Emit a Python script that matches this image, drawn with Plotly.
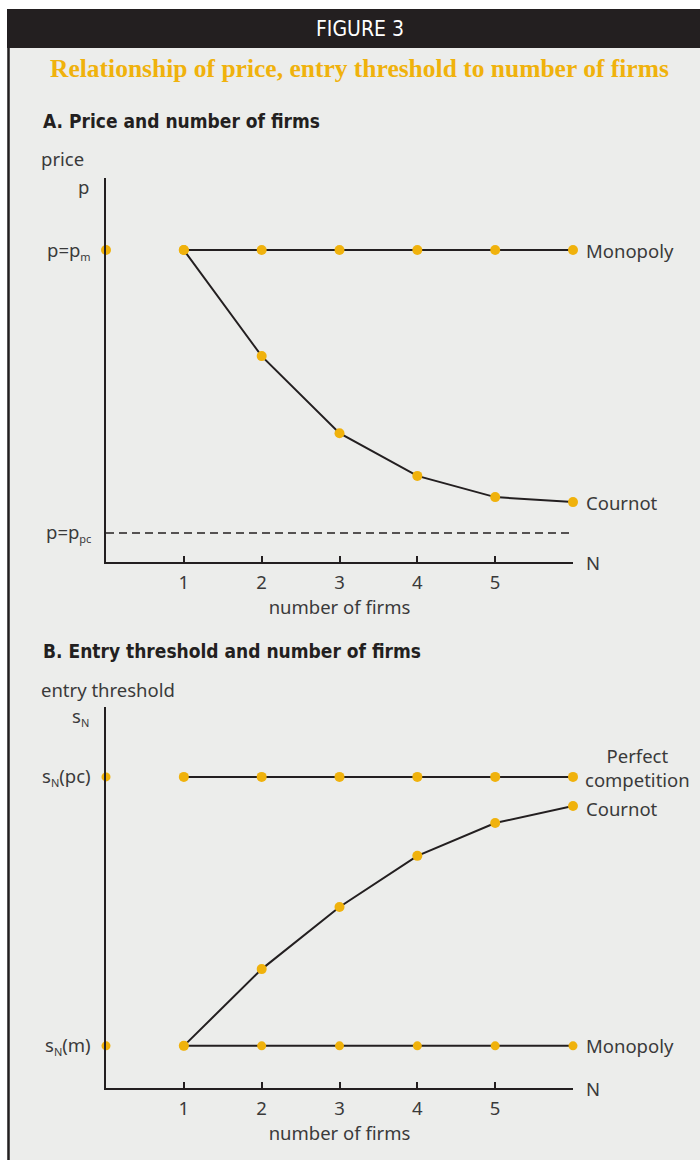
import plotly.graph_objects as go

# ---------------- data ----------------
firms = [1, 2, 3, 4, 5, 6]
tick_vals = [1, 2, 3, 4, 5, 6]
tick_text = ["1", "2", "3", "4", "5", ""]

# Panel A: price vs number of firms
price_m = 1.0
price_pc = 0.093
price_monopoly = [1.0, 1.0, 1.0, 1.0, 1.0, 1.0]
price_cournot = [1.0, 0.660, 0.413, 0.276, 0.208, 0.192]

# Panel B: entry threshold vs number of firms
thr_pc_level = 0.997
thr_m_level = 0.135
thr_pc = [0.997, 0.997, 0.997, 0.997, 0.997, 0.997]
thr_cournot = [0.135, 0.381, 0.580, 0.744, 0.849, 0.904]
thr_monopoly = [0.135, 0.135, 0.135, 0.135, 0.135, 0.135]

# ---------------- style ----------------
W, H = 700, 1160
BG = "#ecedeb"
ORANGE = "#f0b20c"
INK = "#231f20"
TXT = "#3a3a3a"
FONT = "Noto Sans, Open Sans, DejaVu Sans, sans-serif"
HEAD_FONT = "Liberation Sans Narrow, DejaVu Sans Condensed, Arial Narrow, sans-serif"
LBL = 18.5


def px_x(p):
    return p / W


def px_y(p):
    return (H - p) / H


def sub(s):
    return "<sub><span style='font-size:11px'>" + s + "</span></sub>"


fig = go.Figure()


def add_series(x, y, xa, ya, msize=10, line=True):
    fig.add_trace(go.Scatter(
        x=x, y=y, xaxis=xa, yaxis=ya,
        mode="lines+markers" if line else "markers",
        line=dict(color=INK, width=2),
        marker=dict(color=ORANGE, size=msize),
        cliponaxis=False, showlegend=False, hoverinfo="skip"))


# Panel A
fig.add_trace(go.Scatter(x=[0, 6], y=[price_pc, price_pc], xaxis="x", yaxis="y",
                         mode="lines", line=dict(color=INK, width=1.6, dash="8px,5px"),
                         showlegend=False, hoverinfo="skip", cliponaxis=False))
add_series(firms, price_monopoly, "x", "y")
add_series(firms, price_cournot, "x", "y")
add_series([0], [price_m], "x", "y", line=False)

# Panel B
add_series(firms, thr_pc, "x2", "y2")
add_series(firms, thr_monopoly, "x2", "y2", msize=9)
add_series(firms, thr_cournot, "x2", "y2")
add_series([0, 0], [thr_pc_level, thr_m_level], "x2", "y2", msize=9, line=False)

xdom = [px_x(106), px_x(573)]
axis_common = dict(showgrid=False, zeroline=False, showline=True, linecolor=INK,
                   linewidth=2, fixedrange=True)

xa = dict(axis_common, domain=xdom, range=[0, 6], tickvals=tick_vals, ticktext=tick_text,
          ticks="inside", ticklen=6, tickwidth=2, tickcolor=INK,
          tickfont=dict(family=FONT, size=LBL, color=TXT), ticklabelstandoff=3,
          title=dict(text="number of firms", font=dict(family=FONT, size=LBL, color=TXT),
                     standoff=0))

fig.update_layout(
    width=W, height=H, margin=dict(l=0, r=0, t=0, b=0),
    paper_bgcolor=BG, plot_bgcolor=BG,
    xaxis=dict(xa, anchor="y"),
    yaxis=dict(axis_common, domain=[px_y(562), px_y(178)], range=[0, 1.231],
               showticklabels=False, ticks="", anchor="x"),
    xaxis2=dict(xa, anchor="y2"),
    yaxis2=dict(axis_common, domain=[px_y(1088), px_y(707)], range=[0, 1.221],
                showticklabels=False, ticks="", anchor="x2"),
)

shapes = [
    dict(type="rect", xref="paper", yref="paper", x0=0, x1=1, y0=px_y(9), y1=1,
         fillcolor="white", line_width=0, layer="below"),
    dict(type="rect", xref="paper", yref="paper", x0=0, x1=px_x(7), y0=0, y1=1,
         fillcolor="white", line_width=0, layer="below"),
    dict(type="rect", xref="paper", yref="paper", x0=px_x(7), x1=1, y0=px_y(48), y1=px_y(9),
         fillcolor=INK, line_width=0, layer="below"),
    dict(type="line", xref="paper", yref="paper", x0=px_x(8.5), x1=px_x(8.5), y0=0, y1=px_y(9),
         line=dict(color=INK, width=2.5)),
]
fig.update_layout(shapes=shapes)

ann = []


def note(text, x, y, xref="paper", yref="paper", xanchor="left", size=LBL, color=TXT,
         family=FONT, xshift=0, yshift=0, align="left"):
    ann.append(dict(text=text, x=x, y=y, xref=xref, yref=yref, xanchor=xanchor,
                    yanchor="middle", showarrow=False, align=align,
                    font=dict(family=family, size=size, color=color),
                    xshift=xshift, yshift=yshift))


# header texts
note("FIGURE 3", px_x(360), px_y(29), xanchor="center", size=21, color="white", family=HEAD_FONT)
note("<b>Relationship of price, entry threshold to number of firms</b>", px_x(360), px_y(68),
     xanchor="center", size=25.5, color=ORANGE, family="Liberation Serif, Times New Roman, serif")
note("<b>A. Price and number of firms</b>", px_x(41), px_y(121), size=19, color=INK, family=HEAD_FONT)
note("<b>B. Entry threshold and number of firms</b>", px_x(41), px_y(651), size=19, color=INK,
     family=HEAD_FONT)

# panel A labels
note("price", px_x(39), px_y(159))
note("p", px_x(91), px_y(186), xanchor="right")
note("p=p" + sub("m"), 0, price_m, xref="x", yref="y", xanchor="right", xshift=-13)
note("p=p" + sub("pc"), 0, price_pc, xref="x", yref="y", xanchor="right", xshift=-13)
note("Monopoly", 6, price_monopoly[-1], xref="x", yref="y", xshift=11)
note("Cournot", 6, price_cournot[-1], xref="x", yref="y", xshift=11)
note("N", 6, 0, xref="x", yref="y", xshift=11)

# panel B labels
note("entry threshold", px_x(39), px_y(689))
note("s" + sub("N"), px_x(91), px_y(716), xanchor="right")
note("s" + sub("N") + "(pc)", 0, thr_pc_level, xref="x2", yref="y2", xanchor="right", xshift=-13)
note("s" + sub("N") + "(m)", 0, thr_m_level, xref="x2", yref="y2", xanchor="right", xshift=-13)
note("Perfect<br>competition", 6, thr_pc[-1], xref="x2", yref="y2", xshift=10, yshift=9,
     align="center")
note("Cournot", 6, thr_cournot[-1], xref="x2", yref="y2", xshift=11, yshift=-3)
note("Monopoly", 6, thr_monopoly[-1], xref="x2", yref="y2", xshift=11)
note("N", 6, 0, xref="x2", yref="y2", xshift=11)

fig.update_layout(annotations=ann)

fig.write_html("out.html", config={"displayModeBar": False},
               post_script="document.body.style.margin='0';document.body.style.padding='0';")
